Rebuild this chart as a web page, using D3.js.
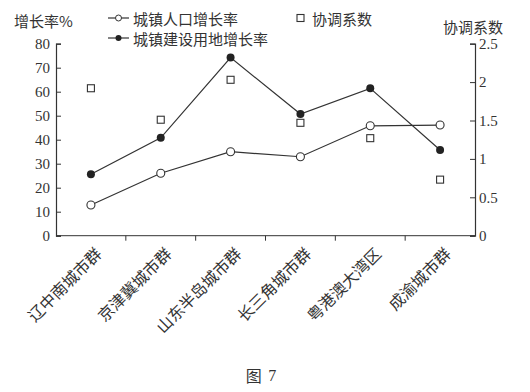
<!DOCTYPE html>
<meta charset="utf-8">
<style>
  body { margin: 0; background: #fff; }
  text { fill: #333; }
  .cn { font-family: "Noto Sans CJK SC", sans-serif; }
  .num { font-family: "Liberation Serif", serif; }
</style>
<div id="chart"></div>
<script src="https://cdn.jsdelivr.net/npm/d3@7"></script>
<script>

// data
var cities = ["辽中南城市群", "京津冀城市群", "山东半岛城市群", "长三角城市群", "粤港澳大湾区", "成渝城市群"];
var popGrowth = [12.8, 26, 35, 32.9, 45.8, 46.1];
var landGrowth = [25.6, 40.8, 74.2, 50.7, 61.4, 35.7];
var coordCoef = [1.92, 1.51, 2.03, 1.47, 1.27, 0.73];
var leftTicks = [0, 10, 20, 30, 40, 50, 60, 70, 80];
var rightTicks = [0, 0.5, 1, 1.5, 2, 2.5];

var W = 530, H = 392;
var plot = {left: 56, right: 475, top: 43.7, bottom: 235.7};
var ink = "#333";

var svg = d3.select("#chart")
  .append("svg")
    .attr("width", W)
    .attr("height", H);

var x = d3.scaleBand()
  .domain(cities)
  .range([plot.left, plot.right]);

var y = d3.scaleLinear()
  .domain([0, 80])
  .range([plot.bottom, plot.top]);

var y2 = d3.scaleLinear()
  .domain([0, 2.5])
  .range([plot.bottom, plot.top]);

function cx(i) { return x(cities[i]) + x.bandwidth() / 2; }

// left axis, ticks pointing inward
var gl = svg.append("g")
  .attr("transform", "translate(" + plot.left + ",0)")
  .call(d3.axisRight(y).tickValues(leftTicks).tickSize(5).tickFormat(d3.format("d")));
gl.selectAll("text")
  .attr("x", -6)
  .style("text-anchor", "end")
  .attr("class", "num")
  .style("font-size", "15px");

// right axis, ticks pointing inward
var gr = svg.append("g")
  .attr("transform", "translate(" + plot.right + ",0)")
  .call(d3.axisLeft(y2).tickValues(rightTicks).tickSize(5).tickFormat(function(d) { return d; }));
gr.selectAll("text")
  .attr("x", 4)
  .style("text-anchor", "start")
  .attr("class", "num")
  .style("font-size", "15px");

// bottom axis: tick marks at band edges
var gb = svg.append("g")
  .attr("transform", "translate(0," + plot.bottom + ")");
gb.append("line")
  .attr("x1", plot.left).attr("x2", plot.right)
  .attr("stroke", ink);
gb.selectAll(".tk")
  .data(cities.slice(1))
  .enter()
  .append("line")
    .attr("x1", function(d) { return x(d); })
    .attr("x2", function(d) { return x(d); })
    .attr("y1", 0).attr("y2", 5)
    .attr("stroke", ink);

svg.selectAll(".domain, .tick line").attr("stroke", ink);
svg.selectAll(".domain").attr("stroke-width", 1.2);
svg.selectAll(".tick text").style("fill", ink);

// category labels rotated
svg.selectAll(".xl")
  .data(cities)
  .enter()
  .append("text")
    .attr("class", "cn")
    .attr("transform", function(d, i) { return "translate(" + (cx(i) + 7) + ",250) rotate(-45)"; })
    .attr("dominant-baseline", "central")
    .style("text-anchor", "end")
    .style("font-size", "16px")
    .text(function(d) { return d; });

// lines
var line = d3.line()
  .x(function(d, i) { return cx(i); })
  .y(function(d) { return y(d); });

svg.append("path")
  .datum(popGrowth)
  .attr("d", line)
  .attr("fill", "none")
  .attr("stroke", ink)
  .attr("stroke-width", 1.2);

svg.append("path")
  .datum(landGrowth)
  .attr("d", line)
  .attr("fill", "none")
  .attr("stroke", ink)
  .attr("stroke-width", 1.2);

svg.selectAll(".pop")
  .data(popGrowth)
  .enter()
  .append("circle")
    .attr("cx", function(d, i) { return cx(i); })
    .attr("cy", function(d) { return y(d); })
    .attr("r", 4)
    .attr("fill", "#fff")
    .attr("stroke", ink)
    .attr("stroke-width", 1.1);

svg.selectAll(".land")
  .data(landGrowth)
  .enter()
  .append("circle")
    .attr("cx", function(d, i) { return cx(i); })
    .attr("cy", function(d) { return y(d); })
    .attr("r", 4)
    .attr("fill", "#222");

svg.selectAll(".coef")
  .data(coordCoef)
  .enter()
  .append("rect")
    .attr("x", function(d, i) { return cx(i) - 3.5; })
    .attr("y", function(d) { return y2(d) - 3.5; })
    .attr("width", 7)
    .attr("height", 7)
    .attr("fill", "#fff")
    .attr("stroke", ink)
    .attr("stroke-width", 1.1);

// axis titles
svg.append("text")
  .attr("class", "cn")
  .attr("x", 14).attr("y", 20)
  .attr("dominant-baseline", "central")
  .style("font-size", "15px")
  .text("增长率%");

svg.append("text")
  .attr("class", "cn")
  .attr("x", 443).attr("y", 26)
  .attr("dominant-baseline", "central")
  .style("font-size", "15px")
  .text("协调系数");

// legend
var lg = svg.append("g");
lg.append("line").attr("x1", 108).attr("x2", 129).attr("y1", 18).attr("y2", 18).attr("stroke", ink).attr("stroke-width", 1.2);
lg.append("circle").attr("cx", 118.5).attr("cy", 18).attr("r", 3).attr("fill", "#fff").attr("stroke", ink);
lg.append("text").attr("class", "cn").attr("x", 133).attr("y", 18)
  .attr("dominant-baseline", "central").style("font-size", "15px").text("城镇人口增长率");

lg.append("line").attr("x1", 108).attr("x2", 129).attr("y1", 38).attr("y2", 38).attr("stroke", ink).attr("stroke-width", 1.2);
lg.append("circle").attr("cx", 118.5).attr("cy", 38).attr("r", 3).attr("fill", "#222");
lg.append("text").attr("class", "cn").attr("x", 133).attr("y", 38)
  .attr("dominant-baseline", "central").style("font-size", "15px").text("城镇建设用地增长率");

lg.append("rect").attr("x", 297).attr("y", 14.5).attr("width", 7).attr("height", 7)
  .attr("fill", "#fff").attr("stroke", ink).attr("stroke-width", 1.1);
lg.append("text").attr("class", "cn").attr("x", 312).attr("y", 18)
  .attr("dominant-baseline", "central").style("font-size", "15px").text("协调系数");

// caption
var cap = svg.append("text")
  .attr("x", 261).attr("y", 375)
  .attr("dominant-baseline", "central")
  .style("text-anchor", "middle")
  .style("font-size", "16px");
cap.append("tspan").attr("class", "cn").text("图 ");
cap.append("tspan").attr("class", "num").attr("dx", 3).text("7");

</script>
